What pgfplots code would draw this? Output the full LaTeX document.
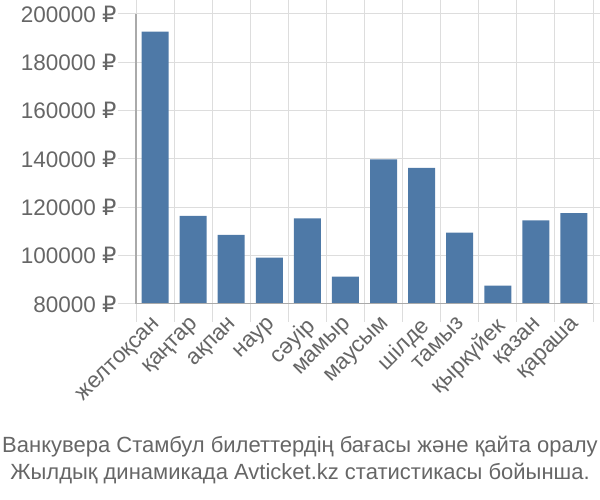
\documentclass[border=0pt]{standalone}
\usepackage{fontspec}
\setmainfont{Liberation Sans}
\newfontfamily\dejavu{DejaVu Sans}
\usepackage{pgfplots}
\pgfplotsset{compat=1.18}
\definecolor{barc}{HTML}{4E79A7}
\definecolor{txt}{HTML}{666666}
\definecolor{gridc}{HTML}{DDDDDD}
\definecolor{axc}{HTML}{AAAAAA}
\newcommand{\rub}{{\dejavu ₽}}
\begin{document}
\begin{tikzpicture}[x=1bp,y=1bp]
\useasboundingbox (0,0) rectangle (600,500);
\begin{axis}[
  at={(136bp,196bp)}, anchor=south west,
  scale only axis, width=457bp, height=290bp,
  xmin=-0.5, xmax=11.5, ymin=80000, ymax=200000,
  ybar, bar width=27bp,
  axis line style={draw=none},
  xtick={-0.5,0.5,...,11.5}, xticklabels={},
  extra x ticks={0,1,...,11},
  extra x tick labels={желтоқсан,қаңтар,ақпан,наур,сәуір,мамыр,маусым,шілде,тамыз,қыркүйек,қазан,қараша},
  extra x tick style={major tick length=0pt, grid=none,
    tick label style={xshift=-3bp, yshift=-7bp, rotate=45, anchor=north east}},
  ytick={80000,100000,...,200000},
  yticklabels={80000 \rub,100000 \rub,120000 \rub,140000 \rub,160000 \rub,180000 \rub,200000 \rub},
  scaled y ticks=false,
  /pgf/number format/assume math mode=true,
  tick align=outside, major tick length=18bp,
  tick style={draw=gridc, line width=1bp},
  xmajorgrids, ymajorgrids,
  major grid style={draw=gridc, line width=1bp},
  tick label style={text=txt, font=\fontsize{22.5bp}{26bp}\selectfont},
  yticklabel style={xshift=2bp},
  clip=false,
]
\addplot[fill=barc, draw=none] coordinates {
(0,192700) (1,116500) (2,108550) (3,99150) (4,115450) (5,91300)
(6,139850) (7,136300) (8,109500) (9,87550) (10,114650) (11,117650)};
\draw[axc, line width=1.5bp] (axis cs:-0.5,80000) -- (axis cs:-0.5,200000);
\draw[axc, line width=1bp] (axis cs:-0.5,80000) -- (axis cs:11.5,80000);
\end{axis}
\node[text=txt, font=\fontsize{22bp}{26bp}\selectfont] at (300,53) {Ванкувера Стамбул билеттердің бағасы және қайта оралу};
\node[text=txt, font=\fontsize{22bp}{26bp}\selectfont] at (300,26) {Жылдық динамикада Avticket.kz статистикасы бойынша.};
\end{tikzpicture}
\end{document}
